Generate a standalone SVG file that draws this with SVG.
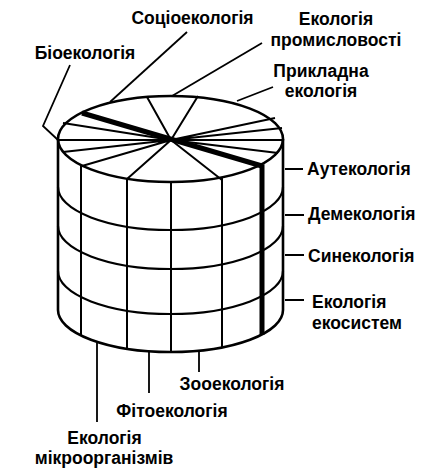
<svg xmlns="http://www.w3.org/2000/svg" width="441" height="475" viewBox="0 0 441 475">
<style>
.o{fill:none;stroke:#000;stroke-width:2.6}
.b{fill:none;stroke:#000;stroke-width:2.2}
.v{fill:none;stroke:#000;stroke-width:2}
.k{fill:none;stroke:#000;stroke-width:5}
.l{fill:none;stroke:#000;stroke-width:1.8}
text{font-family:"Liberation Sans",Arial,sans-serif;font-weight:bold;font-size:17.5px;fill:#000}
.m{text-anchor:middle}
</style>
<rect width="441" height="475" fill="#fff"/>
<g id="cylinder">
<path class="o" d="M58,139 V310 M283,139 V310"/>
<path class="o" d="M58,310 A112.5,42 0 0 0 283,310"/>
<path class="b" d="M58,187 A112.5,43 0 0 0 283,187"/>
<path class="b" d="M58,226 A112.5,43 0 0 0 283,226"/>
<path class="b" d="M58,271 A112.5,43 0 0 0 283,271"/>
<path class="v" d="M81,165 V335.5 M127,178.6 V348.7 M171,182 V352 M222,177.2 V347.3"/>
<path class="k" d="M262,164.3 V334.7"/>
<path class="v" d="M171,140 L147,97 M171,140 L198,96 M171,140 L275,118 M171,140 L282,128 M171,140 L283,140 M171,140 L278,153 M171,140 L222,180 M171,140 L127,179 M171,140 L82,166 M171,140 L63,152 M171,140 L58,140 M171,140 L63,123"/>
<path class="k" d="M82,113 L262,166"/>
<ellipse class="o" cx="170.5" cy="139" rx="112.5" ry="43"/>
</g>
<g id="connectors">
<polyline class="l" points="70,65 43,126 58,140"/>
<path class="l" d="M187,32 L110,102"/>
<path class="l" d="M262,43 L172,96"/>
<path class="l" d="M273,87 L237,101"/>
<path class="l" d="M285,169 H303 M285,215 H304 M285,255 H304 M285,300 H304"/>
<path class="l" d="M199,352 V372 M149,352 V393 M97,343 V422"/>
</g>
<g id="socioecology"><text x="192.5" y="24" class="m">Соціоекологія</text></g>
<g id="industrial-ecology"><text x="336" y="25" class="m">Екологія</text><text x="336" y="46" class="m">промисловості</text></g>
<g id="bioecology"><text x="85" y="59" class="m">Біоекологія</text></g>
<g id="applied-ecology"><text x="321" y="77" class="m">Прикладна</text><text x="321" y="97" class="m">екологія</text></g>
<g id="autecology"><text x="307" y="175">Аутекологія</text></g>
<g id="demecology"><text x="308" y="220">Демекологія</text></g>
<g id="synecology"><text x="308" y="262">Синекологія</text></g>
<g id="ecosystem-ecology"><text x="312" y="308">Екологія</text><text x="312" y="329">екосистем</text></g>
<g id="zooecology"><text x="232" y="390" class="m">Зооекологія</text></g>
<g id="phytoecology"><text x="172" y="417" class="m">Фітоекологія</text></g>
<g id="microbial-ecology"><text x="104.5" y="444" class="m">Екологія</text><text x="104" y="464" class="m">мікроорганізмів</text></g>
</svg>
